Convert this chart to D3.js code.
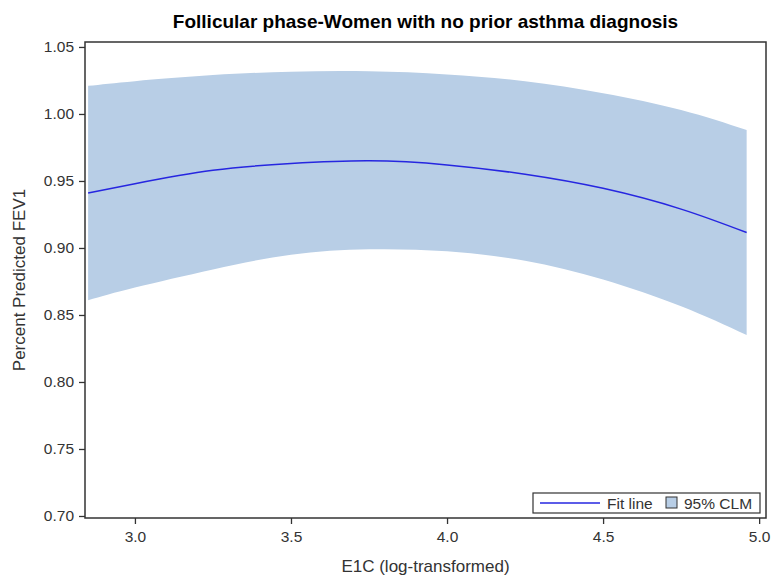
<!DOCTYPE html>
<html><head><meta charset="utf-8">
<script src="https://cdn.jsdelivr.net/npm/d3@7"></script>
<style>body{margin:0;background:#fff}svg{display:block}text{font-family:"Liberation Sans",Arial,sans-serif}</style>
</head><body>
<svg id="c" width="772" height="579"></svg>
<script>
const xVals = [2.85, 3.0, 3.25, 3.5, 3.75, 4.0, 4.25, 4.5, 4.75, 4.96];
const fitVals = [0.941, 0.948, 0.958, 0.963, 0.965, 0.962, 0.955, 0.9445, 0.929, 0.9115];
const upperVals = [1.021, 1.0245, 1.029, 1.0315, 1.0318, 1.0295, 1.0245, 1.0155, 1.003, 0.988];
const lowerVals = [0.861, 0.8705, 0.884, 0.895, 0.899, 0.8975, 0.8905, 0.8765, 0.8565, 0.835];
const xTicks = [3.0, 3.5, 4.0, 4.5, 5.0];
const yTicks = [0.70, 0.75, 0.80, 0.85, 0.90, 0.95, 1.00, 1.05];
const title = "Follicular phase-Women with no prior asthma diagnosis";
const xLabel = "E1C (log-transformed)";
const yLabel = "Percent Predicted FEV1";
const legendItems = ["Fit line", "95% CLM"];

const L = 85, R = 766, T = 42, B = 518;
const svg = d3.select("#c");
const x = d3.scaleLinear().domain([2.84, 5.022]).range([L, R]);
const y = d3.scaleLinear().domain([0.6985, 1.0537]).range([B, T]);
const data = xVals.map((v, i) => ({x: v, f: fitVals[i], u: upperVals[i], l: lowerVals[i]}));

svg.append("path").datum(data)
  .attr("d", d3.area().x(d => x(d.x)).y0(d => y(d.l)).y1(d => y(d.u)).curve(d3.curveNatural))
  .attr("fill", "#b8cee6");
svg.append("path").datum(data)
  .attr("d", d3.line().x(d => x(d.x)).y(d => y(d.f)).curve(d3.curveNatural))
  .attr("fill", "none").attr("stroke", "#2626e0").attr("stroke-width", 1.5);

svg.append("rect").attr("x", L).attr("y", T).attr("width", R - L).attr("height", B - T)
  .attr("fill", "none").attr("stroke", "#333").attr("stroke-width", 1.5);

const xa = svg.append("g").attr("transform", `translate(0,${B})`)
  .call(d3.axisBottom(x).tickValues(xTicks).tickFormat(d3.format(".1f")).tickSize(6).tickPadding(7));
const ya = svg.append("g").attr("transform", `translate(${L},0)`)
  .call(d3.axisLeft(y).tickValues(yTicks).tickFormat(d3.format(".2f")).tickSize(6).tickPadding(5));
[xa, ya].forEach(g => {
  g.select(".domain").remove();
  g.selectAll(".tick line").attr("stroke", "#333").attr("stroke-width", 1.3);
  g.selectAll(".tick text").attr("fill", "#333").style("font-size", "15.5px");
});

svg.append("text").attr("x", (L + R) / 2).attr("y", 28).attr("text-anchor", "middle")
  .style("font-size", "19px").style("font-weight", "bold").attr("fill", "#000").text(title);
svg.append("text").attr("x", (L + R) / 2).attr("y", 572).attr("text-anchor", "middle")
  .style("font-size", "17px").attr("fill", "#333").text(xLabel);
svg.append("text").attr("transform", `translate(25,${(T + B) / 2}) rotate(-90)`).attr("text-anchor", "middle")
  .style("font-size", "17px").attr("fill", "#333").text(yLabel);

const lg = svg.append("g");
lg.append("rect").attr("x", 533).attr("y", 493).attr("width", 227).attr("height", 20)
  .attr("fill", "#fff").attr("stroke", "#333").attr("stroke-width", 1.2);
lg.append("line").attr("x1", 540).attr("x2", 600).attr("y1", 503).attr("y2", 503)
  .attr("stroke", "#2626e0").attr("stroke-width", 1.5);
lg.append("text").attr("x", 607).attr("y", 509).style("font-size", "15.5px").attr("fill", "#333").text(legendItems[0]);
lg.append("rect").attr("x", 666).attr("y", 497).attr("width", 11).attr("height", 11)
  .attr("fill", "#b8cee6").attr("stroke", "#333").attr("stroke-width", 1);
lg.append("text").attr("x", 684).attr("y", 509).style("font-size", "15.5px").attr("fill", "#333").text(legendItems[1]);
</script>
</body></html>
